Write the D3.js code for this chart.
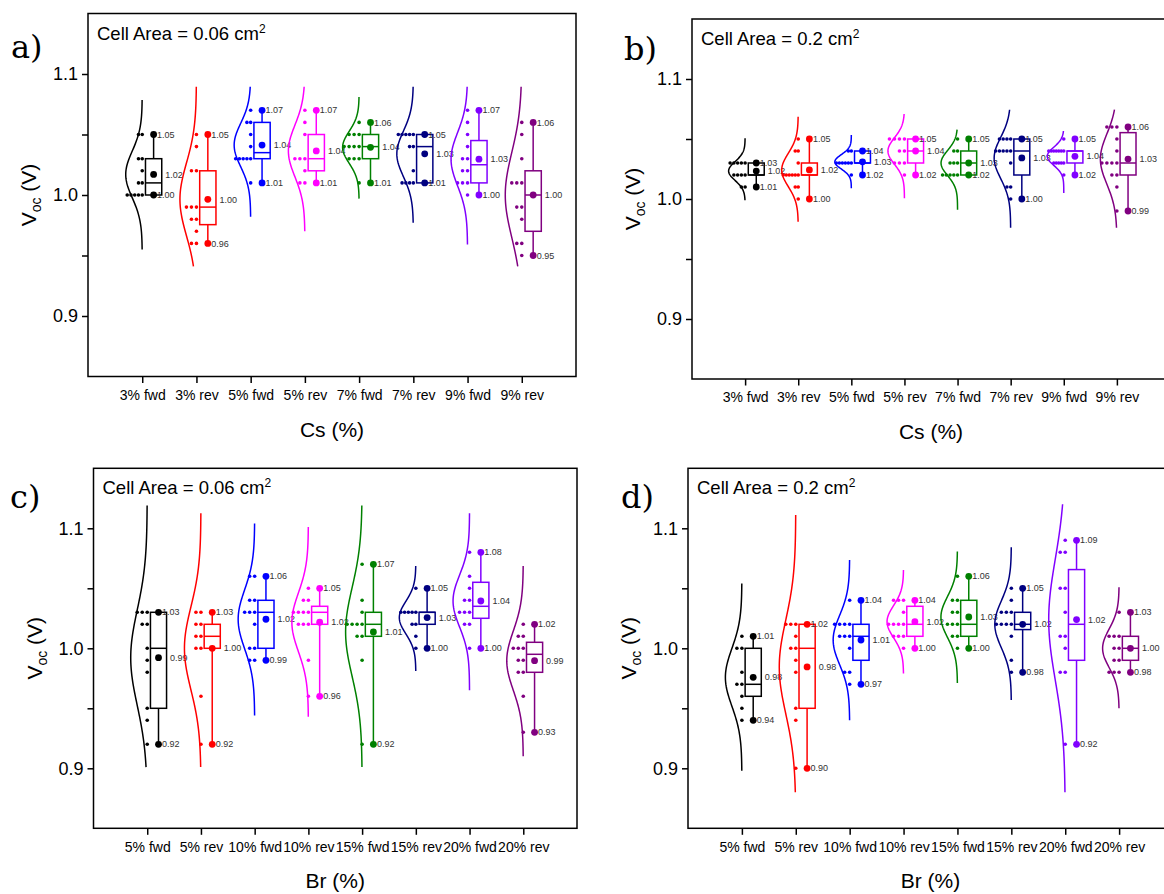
<!DOCTYPE html>
<html>
<head>
<meta charset="utf-8">
<script src="https://cdn.jsdelivr.net/npm/d3@7"></script>
<style>
  body { margin: 0; background: #fff; }
  svg { display: block; }
  text { font-family: "Liberation Sans", Arial, sans-serif; }
</style>
</head>
<body>
<svg id="chart" width="1164" height="894"></svg>
<script>
// ---- categories, colours and axis ticks ----
const catsCs = ["3% fwd", "3% rev", "5% fwd", "5% rev", "7% fwd", "7% rev", "9% fwd", "9% rev"];
const catsBr = ["5% fwd", "5% rev", "10% fwd", "10% rev", "15% fwd", "15% rev", "20% fwd", "20% rev"];
const groupColors = ["#000000", "#ff0000", "#0000ff", "#ff00ff", "#008000", "#000080", "#8000ff", "#800080"];
const yTickValues = [0.9, 0.95, 1.0, 1.05, 1.1];
const yTickLabelled = [0.9, 1.0, 1.1];

// ---- a) Cs series, 0.06 cm2 ----
const aMax     = [1.05, 1.05, 1.07, 1.07, 1.06, 1.05, 1.07, 1.06];
const aQ3      = [1.03, 1.02, 1.06, 1.05, 1.05, 1.05, 1.045, 1.02];
const aMedian  = [1.01, 0.99, 1.035, 1.03, 1.04, 1.04, 1.025, 1.00];
const aQ1      = [1.00, 0.9755, 1.03, 1.02, 1.03, 1.01, 1.01, 0.97];
const aMin     = [1.00, 0.96, 1.01, 1.01, 1.01, 1.01, 1.00, 0.95];
const aMean    = [1.017, 0.9964, 1.0413, 1.0364, 1.0394, 1.034, 1.0296, 1.000];
const aCurveLo = [0.955, 0.941, 0.982, 0.970, 0.997, 0.977, 0.959, 0.941];
const aCurveHi = [1.0785, 1.0895, 1.0895, 1.0895, 1.081, 1.0895, 1.0895, 1.0895];
const aDots = [
  [[1.05, 2], [1.03, 2], [1.02, 1], [1.01, 2], [1.00, 5]],
  [[1.05, 1], [1.04, 1], [1.02, 2], [0.99, 3], [0.98, 2], [0.97, 1], [0.96, 2]],
  [[1.07, 1], [1.06, 2], [1.05, 1], [1.04, 1], [1.03, 5], [1.01, 1]],
  [[1.07, 1], [1.06, 1], [1.05, 1], [1.03, 3], [1.02, 1], [1.01, 2]],
  [[1.06, 1], [1.05, 3], [1.04, 4], [1.03, 3], [1.01, 1]],
  [[1.05, 5], [1.04, 2], [1.02, 1], [1.01, 4]],
  [[1.07, 1], [1.06, 1], [1.05, 1], [1.04, 1], [1.03, 2], [1.02, 2], [1.01, 3], [1.00, 1]],
  [[1.06, 1], [1.05, 1], [1.03, 1], [1.01, 3], [0.99, 2], [0.98, 1], [0.96, 2], [0.95, 1]]
];

// ---- b) Cs series, 0.2 cm2 ----
const bMax     = [1.03, 1.05, 1.04, 1.05, 1.05, 1.05, 1.05, 1.06];
const bQ3      = [1.03, 1.03, 1.04, 1.05, 1.04, 1.05, 1.04, 1.0553];
const bMedian  = [1.02, 1.02, 1.03, 1.04, 1.03, 1.04, 1.04, 1.03];
const bQ1      = [1.02, 1.02, 1.03, 1.03, 1.02, 1.02, 1.03, 1.02];
const bMin     = [1.01, 1.00, 1.02, 1.02, 1.02, 1.00, 1.02, 0.99];
const bMean    = [1.0233, 1.0242, 1.031, 1.04, 1.03, 1.0342, 1.0356, 1.0333];
const bCurveLo = [0.999, 0.981, 1.009, 1.0006, 0.991, 0.976, 1.005, 0.976];
const bCurveHi = [1.0506, 1.0686, 1.0533, 1.0708, 1.0578, 1.0744, 1.0567, 1.0744];
const bDots = [
  [[1.03, 5], [1.02, 4], [1.01, 2]],
  [[1.05, 1], [1.04, 2], [1.03, 1], [1.02, 6], [1.01, 2], [1.00, 1]],
  [[1.04, 2], [1.03, 6], [1.02, 1]],
  [[1.05, 4], [1.04, 2], [1.03, 3], [1.02, 1]],
  [[1.05, 1], [1.04, 2], [1.03, 3], [1.02, 5]],
  [[1.05, 4], [1.04, 5], [1.03, 1], [1.01, 2], [1.00, 1]],
  [[1.05, 1], [1.04, 7], [1.03, 5], [1.02, 1]],
  [[1.06, 3], [1.05, 1], [1.04, 1], [1.03, 4], [1.02, 2], [1.01, 1], [0.99, 1]]
];

// ---- c) Br series, 0.06 cm2 ----
const cMax     = [1.03, 1.03, 1.06, 1.05, 1.07, 1.05, 1.08, 1.02];
const cQ3      = [1.03, 1.02, 1.04, 1.035, 1.03, 1.03, 1.055, 1.005];
const cMedian  = [1.00, 1.01, 1.03, 1.03, 1.02, 1.03, 1.035, 0.995];
const cQ1      = [0.95, 1.00, 1.00, 1.02, 1.01, 1.02, 1.025, 0.98];
const cMin     = [0.92, 0.92, 0.99, 0.96, 0.92, 1.00, 1.00, 0.93];
const cMean    = [0.9922, 1.00, 1.0242, 1.0217, 1.0136, 1.0256, 1.0394, 0.9897];
const cCurveLo = [0.901, 0.901, 0.944, 0.943, 0.901, 0.981, 0.965, 0.910];
const cCurveHi = [1.119, 1.1125, 1.104, 1.101, 1.119, 1.0686, 1.1125, 1.0686];
const cDots = [
  [[1.03, 3], [1.02, 2], [1.00, 1], [0.99, 1], [0.98, 1], [0.95, 1], [0.94, 1], [0.92, 1]],
  [[1.03, 2], [1.02, 2], [1.01, 2], [1.00, 2], [0.96, 1], [0.92, 1]],
  [[1.06, 2], [1.04, 2], [1.03, 3], [1.02, 1], [1.00, 2], [0.99, 2]],
  [[1.05, 1], [1.04, 2], [1.03, 4], [1.02, 3], [0.99, 1], [0.96, 1]],
  [[1.07, 1], [1.04, 1], [1.03, 1], [1.02, 4], [1.01, 2], [0.99, 1], [0.92, 1]],
  [[1.05, 1], [1.03, 5], [1.02, 2], [1.01, 1], [1.00, 1]],
  [[1.08, 1], [1.06, 1], [1.05, 1], [1.04, 2], [1.03, 3], [1.02, 2], [1.00, 1]],
  [[1.02, 1], [1.01, 2], [1.00, 3], [0.99, 2], [0.98, 2], [0.96, 1], [0.93, 1]]
];

// ---- d) Br series, 0.2 cm2 ----
const dMax     = [1.01, 1.02, 1.04, 1.04, 1.06, 1.05, 1.09, 1.03];
const dQ3      = [1.00, 1.02, 1.02, 1.035, 1.04, 1.03, 1.0656, 1.01];
const dMedian  = [0.97, 1.00, 1.01, 1.02, 1.02, 1.02, 1.02, 1.00];
const dQ1      = [0.96, 0.95, 0.99, 1.01, 1.01, 1.0156, 0.99, 0.99];
const dMin     = [0.94, 0.90, 0.97, 1.00, 1.00, 0.98, 0.92, 0.98];
const dMean    = [0.9758, 0.9845, 1.0069, 1.0222, 1.0261, 1.02, 1.0239, 1.00];
const dCurveLo = [0.898, 0.880, 0.940, 0.979, 0.971, 0.957, 0.880, 0.950];
const dCurveHi = [1.054, 1.111, 1.0736, 1.0653, 1.0806, 1.0842, 1.120, 1.0508];
const dDots = [
  [[1.01, 1], [1.00, 2], [0.98, 1], [0.97, 2], [0.96, 1], [0.95, 1], [0.94, 1]],
  [[1.02, 3], [1.01, 1], [1.00, 2], [0.99, 1], [0.98, 1], [0.95, 1], [0.94, 1], [0.90, 1]],
  [[1.04, 1], [1.02, 4], [1.01, 3], [1.00, 1], [0.98, 2], [0.97, 1]],
  [[1.04, 3], [1.03, 1], [1.02, 4], [1.01, 3], [1.00, 1]],
  [[1.06, 1], [1.04, 2], [1.03, 2], [1.02, 3], [1.01, 2], [1.00, 1]],
  [[1.05, 1], [1.04, 1], [1.03, 3], [1.02, 4], [1.01, 1], [0.99, 1], [0.98, 1]],
  [[1.09, 1], [1.08, 2], [1.05, 2], [1.03, 1], [1.01, 2], [1.00, 1], [0.98, 2], [0.92, 1]],
  [[1.03, 1], [1.01, 3], [1.00, 2], [0.99, 2], [0.98, 3]]
];

// ---- panel layout ----
const panels = [
  { letter: "a)", area: "0.06", cats: catsCs, xTitle: "Cs (%)", x0: 88, x1: 576, yTop: 13.5, yBot: 376.5,
    letterX: 11, letterY: 58,
    stats: { max: aMax, q3: aQ3, med: aMedian, q1: aQ1, min: aMin, mean: aMean, lo: aCurveLo, hi: aCurveHi, dots: aDots } },
  { letter: "b)", area: "0.2", cats: catsCs, xTitle: "Cs (%)", x0: 692, x1: 1170, yTop: 19, yBot: 379,
    letterX: 624, letterY: 60,
    stats: { max: bMax, q3: bQ3, med: bMedian, q1: bQ1, min: bMin, mean: bMean, lo: bCurveLo, hi: bCurveHi, dots: bDots } },
  { letter: "c)", area: "0.06", cats: catsBr, xTitle: "Br (%)", x0: 93.5, x1: 577, yTop: 468.3, yBot: 828.3,
    letterX: 10, letterY: 508,
    stats: { max: cMax, q3: cQ3, med: cMedian, q1: cQ1, min: cMin, mean: cMean, lo: cCurveLo, hi: cCurveHi, dots: cDots } },
  { letter: "d)", area: "0.2", cats: catsBr, xTitle: "Br (%)", x0: 688, x1: 1173, yTop: 468.3, yBot: 828.3,
    letterX: 621, letterY: 508,
    stats: { max: dMax, q3: dQ3, med: dMedian, q1: dQ1, min: dMin, mean: dMean, lo: dCurveLo, hi: dCurveHi, dots: dDots } }
];

const svg = d3.select("#chart");
const fmt2 = d3.format(".2f");
const CURVE_W = 16.5;     // peak width of the distribution curve, px
const BOX_OFF = 0.21;     // box centre offset from the category, x units
const BOX_W = 0.30;       // box width, x units

function weightedSd(dots) {
  const n = d3.sum(dots, d => d[1]);
  const m = d3.sum(dots, d => d[0] * d[1]) / n;
  const ss = d3.sum(dots, d => d[1] * (d[0] - m) * (d[0] - m));
  return Math.sqrt(ss / (n - 1));
}

function drawPanel(p) {
  const x = d3.scaleLinear().domain([0, 9]).range([p.x0, p.x1]);
  const y = d3.scaleLinear().domain([0.85, 1.15]).range([p.yBot, p.yTop]);
  const unit = x(1) - x(0);
  const g = svg.append("g");

  // y axis
  const yAx = g.append("g")
    .attr("transform", `translate(${p.x0},0)`)
    .call(d3.axisLeft(y).tickValues(yTickValues).tickSize(6).tickPadding(4)
      .tickFormat(d => yTickLabelled.some(v => Math.abs(v - d) < 1e-9) ? d3.format(".1f")(d) : ""));
  yAx.select(".domain").remove();
  yAx.selectAll("line").attr("stroke-width", 1.5);
  yAx.selectAll("text").attr("font-size", 18).attr("fill", "#000")
    .style("font-family", "'Liberation Sans', Arial, sans-serif");

  // x axis
  const xAx = g.append("g")
    .attr("transform", `translate(0,${p.yBot})`)
    .call(d3.axisBottom(x).tickValues(d3.range(1, 9)).tickSize(6.5).tickPadding(7)
      .tickFormat((d, i) => p.cats[i]));
  xAx.select(".domain").remove();
  xAx.selectAll("line").attr("stroke-width", 1.5);
  xAx.selectAll("text").attr("font-size", 14).attr("fill", "#000")
    .style("font-family", "'Liberation Sans', Arial, sans-serif");

  // frame
  g.append("rect")
    .attr("x", p.x0).attr("y", p.yTop)
    .attr("width", p.x1 - p.x0).attr("height", p.yBot - p.yTop)
    .attr("fill", "none").attr("stroke", "#000").attr("stroke-width", 1.5);

  const s = p.stats;
  const line = d3.line().x(d => d[0]).y(d => d[1]);

  p.cats.forEach((cat, i) => {
    const col = groupColors[i];
    const base = x(i + 1);
    const xc = x(i + 1 + BOX_OFF);
    const bw = BOX_W * unit;
    const gg = g.append("g");
    const dots = s.dots[i];

    // normal distribution curve, bulging to the left of the category
    const sd = weightedSd(dots);
    const mu = s.mean[i];
    const pts = d3.range(0, 121).map(k => {
      const v = s.lo[i] + (s.hi[i] - s.lo[i]) * k / 120;
      const z = (v - mu) / sd;
      return [base - CURVE_W * Math.exp(-0.5 * z * z), y(v)];
    });
    gg.append("path").attr("d", line(pts))
      .attr("fill", "none").attr("stroke", col).attr("stroke-width", 1.5);

    // individual points, stacked leftwards per level
    const maxCount = d3.max(dots, d => d[1]);
    const step = maxCount > 1 ? Math.min(5, 15 / (maxCount - 1)) : 0;
    const pointData = dots.flatMap(d => d3.range(d[1]).map(k => ({ v: d[0], k })));
    gg.selectAll("circle.pt").data(pointData).join("circle")
      .attr("class", "pt")
      .attr("cx", d => base - d.k * step)
      .attr("cy", d => y(d.v))
      .attr("r", 1.8).attr("fill", col);

    // whiskers
    gg.append("line").attr("x1", xc).attr("x2", xc).attr("y1", y(s.q3[i])).attr("y2", y(s.max[i]))
      .attr("stroke", col).attr("stroke-width", 1.5);
    gg.append("line").attr("x1", xc).attr("x2", xc).attr("y1", y(s.q1[i])).attr("y2", y(s.min[i]))
      .attr("stroke", col).attr("stroke-width", 1.5);

    // box and median
    gg.append("rect")
      .attr("x", xc - bw / 2).attr("y", y(s.q3[i]))
      .attr("width", bw).attr("height", y(s.q1[i]) - y(s.q3[i]))
      .attr("fill", "none").attr("stroke", col).attr("stroke-width", 1.5);
    gg.append("line").attr("x1", xc - bw / 2).attr("x2", xc + bw / 2)
      .attr("y1", y(s.med[i])).attr("y2", y(s.med[i]))
      .attr("stroke", col).attr("stroke-width", 1.5);

    // max, mean, min markers
    [s.max[i], s.mean[i], s.min[i]].forEach(v => {
      gg.append("circle").attr("cx", xc).attr("cy", y(v)).attr("r", 3.4).attr("fill", col);
    });

    // value labels
    const lab = (tx, v) => gg.append("text")
      .attr("x", tx).attr("y", y(v)).attr("dy", "0.35em")
      .attr("font-size", 9).attr("fill", "#333")
      .text(fmt2(v));
    lab(xc + 3.5, s.max[i]);
    lab(xc + bw / 2 + 3.5, s.mean[i]);
    lab(xc + 3.5, s.min[i]);
  });

  // cell area note
  const note = g.append("text")
    .attr("x", p.x0 + 9).attr("y", p.yTop + 26)
    .attr("font-size", 18.5).attr("fill", "#000");
  note.append("tspan").text(`Cell Area = ${p.area} cm`);
  note.append("tspan").attr("dy", -7).attr("font-size", 12).text("2");

  // axis titles
  g.append("text")
    .attr("x", (p.x0 + p.x1) / 2).attr("y", p.yBot + 60)
    .attr("text-anchor", "middle").attr("font-size", 21).attr("fill", "#000")
    .text(p.xTitle);
  const yt = g.append("text")
    .attr("transform", `translate(${p.x0 - 52},${(p.yTop + p.yBot) / 2}) rotate(-90)`)
    .attr("text-anchor", "middle").attr("font-size", 21).attr("fill", "#000");
  yt.append("tspan").text("V");
  yt.append("tspan").attr("dy", 5).attr("font-size", 14).text("oc");
  yt.append("tspan").attr("dy", -5).text(" (V)");

  // panel letter
  g.append("text")
    .attr("x", p.letterX).attr("y", p.letterY)
    .attr("font-size", 32).attr("fill", "#000")
    .style("font-family", "'DejaVu Serif', 'Liberation Serif', serif")
    .text(p.letter);
}

panels.forEach(drawPanel);
</script>
</body>
</html>
